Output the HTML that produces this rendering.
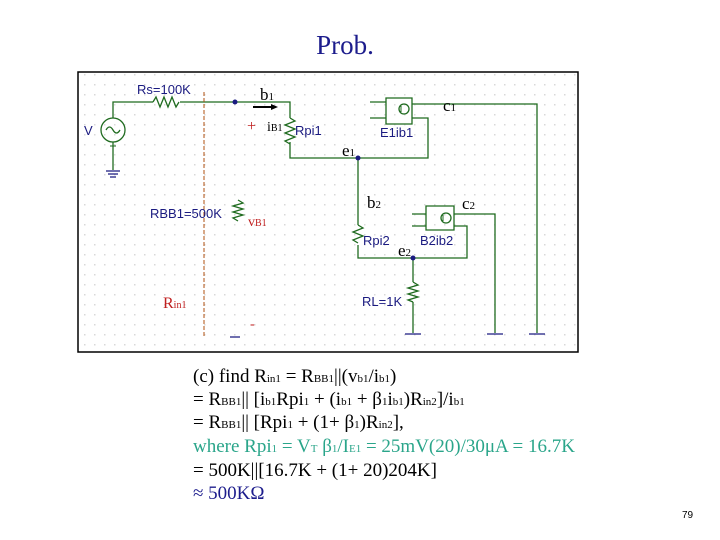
<!DOCTYPE html>
<html><head><meta charset="utf-8"><style>
body{margin:0;width:720px;height:540px;background:#fff;overflow:hidden;position:relative;font-family:"Liberation Serif",serif}
.t{position:absolute;left:193px;font-size:19px;white-space:nowrap;color:#000}
sub{font-size:11px;vertical-align:baseline}
</style></head><body>
<div style="position:absolute;left:0;width:720px;top:30px;text-align:center;font-size:27px;color:#1c1c8c;padding-left:-10px"><span style="margin-left:-30px">Prob.</span></div>
<svg width="720" height="540" style="position:absolute;left:0;top:0" font-family="Liberation Sans, sans-serif">
<defs><pattern id="g" width="10" height="10" patternUnits="userSpaceOnUse"><rect x="4" y="4" width="1.5" height="1.5" fill="#d8d8d8"/></pattern></defs>
<rect x="78" y="72" width="500" height="280" fill="url(#g)" stroke="#000" stroke-width="1.5"/>
<g fill="none" stroke="#1f6b1f" stroke-width="1.3">
<circle cx="113" cy="130" r="12"/>
<path d="M106 130 q3.5 -6 7 0 q3.5 6 7 0"/>
<path d="M113 118 V102 H153 M180 102 H290 V118 M290 142 V158 H428 V118 H412 M370 102 H386 M370 118 H386 M386 98 H412 V124 H386 Z"/>
<path d="M153 102 l3 -5 l4 10 l4 -10 l4 10 l4 -10 l4 10 l3 -5"/>
<path d="M290 118 l5 3 l-10 4 l10 4 l-10 4 l10 4 l-10 4 l5 3"/>
<circle cx="404" cy="109" r="5"/>
<path d="M412 104 H537 V333"/>
<path d="M113 142 V170"/>
<path d="M358 158 V225 M358 245 V258 H467 V226 H454 M412 214 H426 M412 226 H426 M426 206 H454 V230 H426 Z"/>
<path d="M358 225 l5 3 l-10 4 l10 4 l-10 4 l5 3"/>
<circle cx="446" cy="218" r="5"/>
<path d="M454 214 H495 V333"/>
<path d="M413 258 V282 M413 302 V333"/>
<path d="M413 282 l5 3 l-10 3 l10 3 l-10 3 l10 3 l-10 3 l5 2"/>
<path d="M238 200 l5 3 l-10 3 l10 3 l-10 3 l10 3 l-10 3 l5 3"/>
</g>
<g stroke="#1f6b1f" stroke-width="1"><path d="M113 149 v-7 M110 146 h6 M401 106 v6 M443 215 v6"/></g>
<g stroke="#1a1a80" stroke-width="1.3">
<path d="M106 171 h14 M108 174 h10 M110 177 h6"/>
<path d="M405 334 h16 M487 334 h16 M529 334 h16 M230 337 h10"/>
</g>
<circle cx="235" cy="102" r="2.5" fill="#1a1a80"/>
<circle cx="358" cy="158" r="2.5" fill="#1a1a80"/>
<circle cx="413" cy="258" r="2.5" fill="#1a1a80"/>
<line x1="204" y1="92" x2="204" y2="336" stroke="#b05010" stroke-dasharray="4,2" stroke-width="1"/>
<path d="M253 107 H273" stroke="#000" stroke-width="2"/><path d="M271 104 L278 107 L271 110Z"/>
<g fill="#1a1a80" font-size="13">
<text x="137" y="94">Rs=100K</text>
<text x="84" y="135">V</text>
<text x="295" y="135">Rpi1</text>
<text x="380" y="137">E1ib1</text>
<text x="150" y="218">RBB1=500K</text>
<text x="363" y="245">Rpi2</text>
<text x="420" y="245">B2ib2</text>
<text x="362" y="306">RL=1K</text>
</g>
<g font-family="Liberation Serif, serif" font-size="17" fill="#000">
<text x="260" y="100">b<tspan font-size="11">1</tspan></text>
<text x="443" y="111">c<tspan font-size="11">1</tspan></text>
<text x="342" y="156">e<tspan font-size="11">1</tspan></text>
<text x="367" y="208">b<tspan font-size="11">2</tspan></text>
<text x="462" y="209">c<tspan font-size="11">2</tspan></text>
<text x="398" y="256">e<tspan font-size="11">2</tspan></text>
<text x="267" y="131" font-size="14">i<tspan font-size="10">B1</tspan></text>
</g>
<g fill="#c02020" font-family="Liberation Serif, serif">
<text x="247" y="131" font-size="16">+</text>
<text x="248" y="226" font-size="14">v<tspan font-size="10">B1</tspan></text>
<text x="163" y="308" font-size="16">R<tspan font-size="10">in1</tspan></text>
<text x="250" y="328" font-size="14">-</text>
</g>
<text x="682" y="518" font-size="10" fill="#000">79</text>
</svg>
<div class="t" style="top:366px">(c) find R<sub>in1</sub> = R<sub>BB1</sub>||(v<sub>b1</sub>/i<sub>b1</sub>)</div>
<div class="t" style="top:389px">= R<sub>BB1</sub>|| [i<sub>b1</sub>Rpi<sub>1</sub> + (i<sub>b1</sub> + β<sub>1</sub>i<sub>b1</sub>)R<sub>in2</sub>]/i<sub>b1</sub></div>
<div class="t" style="top:412px">= R<sub>BB1</sub>|| [Rpi<sub>1</sub> + (1+ β<sub>1</sub>)R<sub>in2</sub>],</div>
<div class="t" style="top:436px;color:#2aa58a">where Rpi<sub>1</sub> = V<sub>T</sub> β<sub>1</sub>/I<sub>E1</sub> = 25mV(20)/30μA = 16.7K</div>
<div class="t" style="top:460px">= 500K||[16.7K + (1+ 20)204K]</div>
<div class="t" style="top:483px;color:#1c1c8c">≈ 500KΩ</div>
</body></html>
